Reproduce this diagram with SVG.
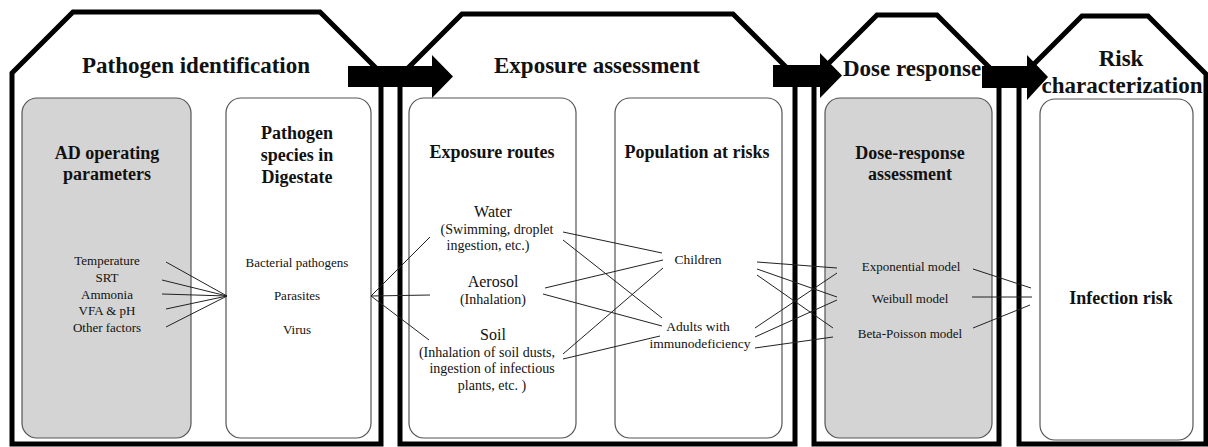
<svg xmlns="http://www.w3.org/2000/svg" width="1208" height="447" viewBox="0 0 1208 447">
<style>
.house{fill:#fff;stroke:#000;stroke-width:5;stroke-linejoin:miter}
.box{stroke:#555;stroke-width:1.2}
.gray{fill:#d4d4d4}
.white{fill:#fff}
.arrow{fill:#000}
text{font-family:"Liberation Serif","Times New Roman",serif;fill:#111;text-anchor:middle}
.t1{font-size:23px;font-weight:bold}
.t2{font-size:18px;font-weight:bold}
.s{font-size:13px}
.m{font-size:14px}
.p{font-size:13.5px}
.l{font-size:16px}
.conn line{stroke:#222;stroke-width:1}
</style>
<rect width="1208" height="447" fill="#fff"/>
<g id="house-pathogen">
<path class="house" d="M12,444 L12,73 L73,12 L320,12 L381,73 L381,444 Z"/>
<text class="t1" x="196" y="73">Pathogen identification</text>
</g>
<g id="house-exposure">
<path class="house" d="M400,444 L400,76 L462,14 L733,14 L795,76 L795,444 Z"/>
<text class="t1" x="597" y="73">Exposure assessment</text>
</g>
<g id="house-dose">
<path class="house" d="M814,444 L814,78 L877,15 L937,15 L999,77 L999,444 Z"/>
<text class="t1" x="912" y="76">Dose response</text>
</g>
<g id="house-risk">
<path class="house" d="M1019,444 L1019,79 L1082,16 L1148,16 L1206,74 L1206,444 Z"/>
<text class="t1" x="1121" y="66">Risk</text>
<text class="t1" x="1122" y="93">characterization</text>
</g>
<g id="arrows">
<polygon class="arrow" points="348,66 432,66 432,55 453,76.5 432,98 432,87 348,87"/>
<polygon class="arrow" points="773,65 820,65 820,53 842,75.5 820,98 820,87 773,87"/>
<polygon class="arrow" points="982,66 1027,66 1027,55 1048,77 1027,100 1027,88 982,88"/>
</g>
<g id="node-ad">
<rect class="box gray" x="22" y="98" width="169" height="340" rx="15"/>
<text class="t2" x="107" y="159">AD operating</text>
<text class="t2" x="107" y="180">parameters</text>
<text class="s" x="107" y="265">Temperature</text>
<text class="s" x="107" y="282">SRT</text>
<text class="s" x="107" y="299">Ammonia</text>
<text class="s" x="107" y="315">VFA &amp; pH</text>
<text class="s" x="107" y="332">Other factors</text>
</g>
<g id="node-species">
<rect class="box white" x="226" y="98" width="145" height="340" rx="15"/>
<text class="t2" x="297" y="139">Pathogen</text>
<text class="t2" x="297" y="161">species in</text>
<text class="t2" x="297" y="183">Digestate</text>
<text class="s" x="297" y="267">Bacterial pathogens</text>
<text class="s" x="297" y="300">Parasites</text>
<text class="s" x="297" y="334">Virus</text>
</g>
<g id="node-routes">
<rect class="box white" x="409" y="98" width="167" height="340" rx="15"/>
<text class="t2" x="492" y="158">Exposure routes</text>
<text class="l" x="493" y="217">Water</text>
<text class="m" x="497" y="234">(Swimming, droplet</text>
<text class="m" x="488" y="250">ingestion, etc.)</text>
<text class="l" x="493" y="287">Aerosol</text>
<text class="m" x="493" y="304">(Inhalation)</text>
<text class="l" x="493" y="340">Soil</text>
<text class="m" x="487" y="357">(Inhalation of soil dusts,</text>
<text class="m" x="492" y="373">ingestion of infectious</text>
<text class="m" x="492" y="390">plants, etc. )</text>
</g>
<g id="node-population">
<rect class="box white" x="615" y="98" width="167" height="340" rx="15"/>
<text class="t2" x="697" y="158">Population at risks</text>
<text class="p" x="698" y="264">Children</text>
<text class="p" x="698" y="331">Adults with</text>
<text class="p" x="700" y="348">immunodeficiency</text>
</g>
<g id="node-dose">
<rect class="box gray" x="825" y="98" width="167" height="340" rx="15"/>
<text class="t2" x="910" y="159">Dose-response</text>
<text class="t2" x="910" y="180">assessment</text>
<text class="s" x="911" y="271">Exponential model</text>
<text class="s" x="910" y="303">Weibull model</text>
<text class="s" x="910" y="338">Beta-Poisson model</text>
</g>
<g id="node-risk">
<rect class="box white" x="1040" y="99" width="153" height="341" rx="15"/>
<text class="t2" x="1121" y="304">Infection risk</text>
</g>
<g id="connectors" class="conn">
<line x1="166" y1="262" x2="227" y2="296"/>
<line x1="162" y1="280" x2="227" y2="296"/>
<line x1="162" y1="294" x2="227" y2="296"/>
<line x1="166" y1="309" x2="227" y2="296"/>
<line x1="166" y1="327" x2="227" y2="296"/>
<line x1="371" y1="296" x2="430" y2="237"/>
<line x1="371" y1="296" x2="430" y2="295"/>
<line x1="371" y1="296" x2="429" y2="340"/>
<line x1="563" y1="232" x2="662" y2="253"/>
<line x1="563" y1="240" x2="662" y2="318"/>
<line x1="545" y1="288" x2="663" y2="260"/>
<line x1="543" y1="294" x2="662" y2="326"/>
<line x1="563" y1="354" x2="663" y2="268"/>
<line x1="563" y1="359" x2="660" y2="336"/>
<line x1="757" y1="262" x2="837" y2="268"/>
<line x1="757" y1="269" x2="837" y2="297"/>
<line x1="757" y1="275" x2="833" y2="328"/>
<line x1="755" y1="328" x2="837" y2="273"/>
<line x1="755" y1="337" x2="837" y2="300"/>
<line x1="755" y1="348" x2="833" y2="337"/>
<line x1="973" y1="269" x2="1031" y2="288"/>
<line x1="972" y1="297" x2="1032" y2="297"/>
<line x1="973" y1="328" x2="1030" y2="305"/>
</g>
</svg>
